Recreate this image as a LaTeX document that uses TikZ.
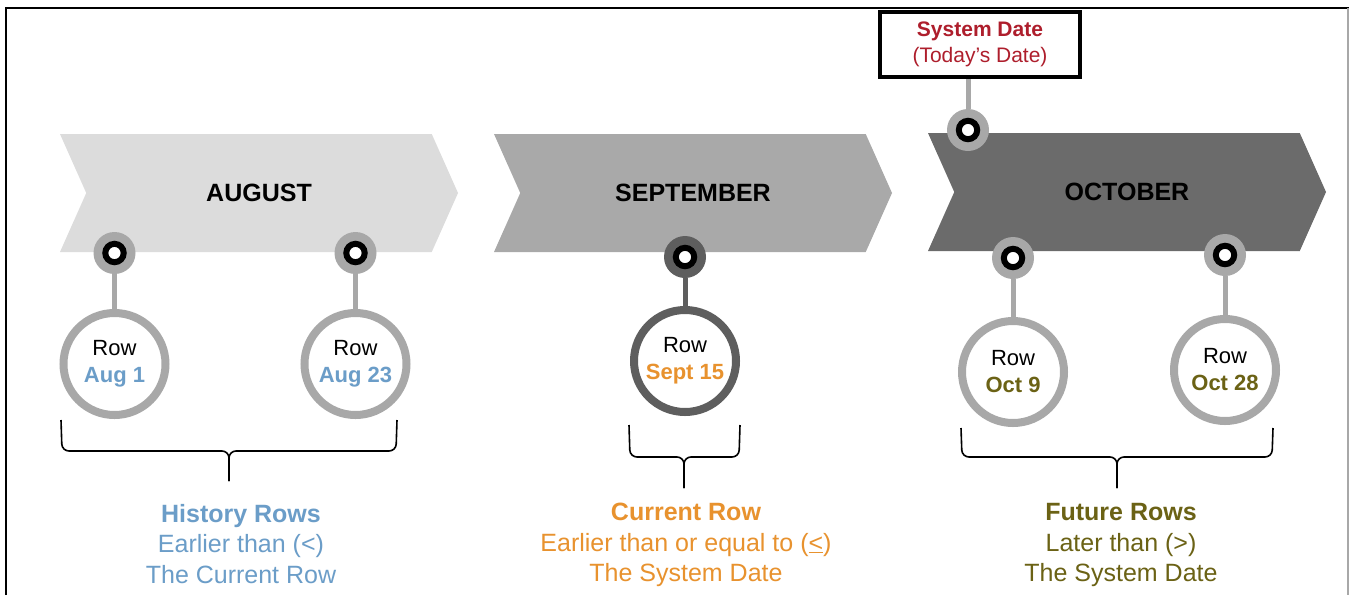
\documentclass[tikz,border=0pt]{standalone}
\usepackage{fontspec}
\setmainfont{Liberation Sans}
\usetikzlibrary{shapes.symbols}

\definecolor{augfill}{HTML}{DCDCDC}
\definecolor{sepfill}{HTML}{A9A9A9}
\definecolor{octfill}{HTML}{6B6B6B}
\definecolor{ringgray}{HTML}{A8A8A8}
\definecolor{ringdark}{HTML}{5E5E5E}
\definecolor{histblue}{HTML}{6B9DC8}
\definecolor{curorange}{HTML}{E8922E}
\definecolor{futolive}{HTML}{6B6215}
\definecolor{sysred}{HTML}{AE1E2C}

\begin{document}
\begin{tikzpicture}[x=1pt, y=-1pt,
    monthbar/.style={signal, signal to=east, signal from=west, signal pointer angle=132,
        minimum width=398, minimum height=118, inner sep=0pt,
        font=\fontsize{25}{28}\selectfont\bfseries},
    datepin/.style={circle, fill=#1, minimum size=42, inner sep=0pt,
        path picture={\draw[line width=6pt, fill=white] (path picture bounding box.center) circle (9.2pt);}},
    rowcircle/.style={circle, draw=#1, line width=8pt, fill=white, minimum size=102, inner sep=0pt,
        align=center, font=\fontsize{22}{27}\selectfont},
    stemline/.style={draw=#1, line width=5pt},
    groupbrace/.style={draw=black, line width=1.6pt, rounded corners=7pt},
    grouptext/.style={align=center, font=\fontsize{25}{30.5}\selectfont},
    sysbox/.style={draw=black, line width=4pt, fill=white, minimum width=200, minimum height=65,
        inner sep=0pt, align=center, text=sysred, font=\fontsize{21}{26}\selectfont}]

        \useasboundingbox (0,0) rectangle (1349,595);
        \fill[white] (0,0) rectangle (1349,595);
        \draw[line width=2.2pt] (6,595) -- (6,8) -- (1349,8);
        \draw[ringgray, line width=2pt] (1347.5,8) -- (1347.5,595);

        \node[monthbar, fill=augfill] (aug) at (259,193) {AUGUST};
        \node[monthbar, fill=sepfill] (sep) at (693,193) {SEPTEMBER};
        \node[monthbar, fill=octfill] (oct) at (1127,192) {OCTOBER};

        \node[sysbox] (sys) at (980,44) {\textbf{System Date}\\(Today's Date)};

        \node[datepin=ringgray] (p1) at (114.5,253) {};
        \node[datepin=ringgray] (p2) at (355.5,253) {};
        \node[datepin=ringdark] (p3) at (685,257) {};
        \node[datepin=ringgray] (p4) at (1013,258) {};
        \node[datepin=ringgray] (p5) at (1225,255) {};
        \node[datepin=ringgray] (psys) at (968,130) {};

        \node[rowcircle=ringgray] (r1) at (114.5,364) {Row\\\textcolor{histblue}{\bfseries Aug 1}};
        \node[rowcircle=ringgray] (r2) at (355.5,364) {Row\\\textcolor{histblue}{\bfseries Aug 23}};
        \node[rowcircle=ringdark] (r3) at (685,361) {Row\\\textcolor{curorange}{\bfseries Sept 15}};
        \node[rowcircle=ringgray] (r4) at (1013,372) {Row\\\textcolor{futolive}{\bfseries Oct 9}};
        \node[rowcircle=ringgray] (r5) at (1225,370) {Row\\\textcolor{futolive}{\bfseries Oct 28}};

        \draw[stemline=ringgray] (p1) -- (r1);
        \draw[stemline=ringgray] (p2) -- (r2);
        \draw[stemline=ringdark] (p3) -- (r3);
        \draw[stemline=ringgray] (p4) -- (r4);
        \draw[stemline=ringgray] (p5) -- (r5);
        \draw[stemline=ringgray] (psys) -- (psys |- sys.south);

        \draw[groupbrace] (61,420) -- (62,451) -- (229,451) -- (229,481);
        \draw[groupbrace] (397,420) -- (396,451) -- (229,451) -- (229,481);
        \draw[groupbrace] (629,425) -- (630,457) -- (684,457) -- (684,488);
        \draw[groupbrace] (740,425) -- (739,457) -- (684,457) -- (684,488);
        \draw[groupbrace] (961,428) -- (962,457) -- (1117,457) -- (1117,488);
        \draw[groupbrace] (1273,428) -- (1272,457) -- (1117,457) -- (1117,488);

        \node[grouptext, text=histblue] (hist) at (241,544) {\textbf{History Rows}\\Earlier than (<)\\The Current Row};
        \node[grouptext, text=curorange] (cur) at (686,545) {\textbf{Current Row}\\Earlier than or equal to (\underline{<})\\The System Date};
        \node[grouptext, text=futolive] (fut) at (1121,545) {\textbf{Future Rows}\\Later than (>)\\The System Date};

    \end{tikzpicture}
\end{document}
